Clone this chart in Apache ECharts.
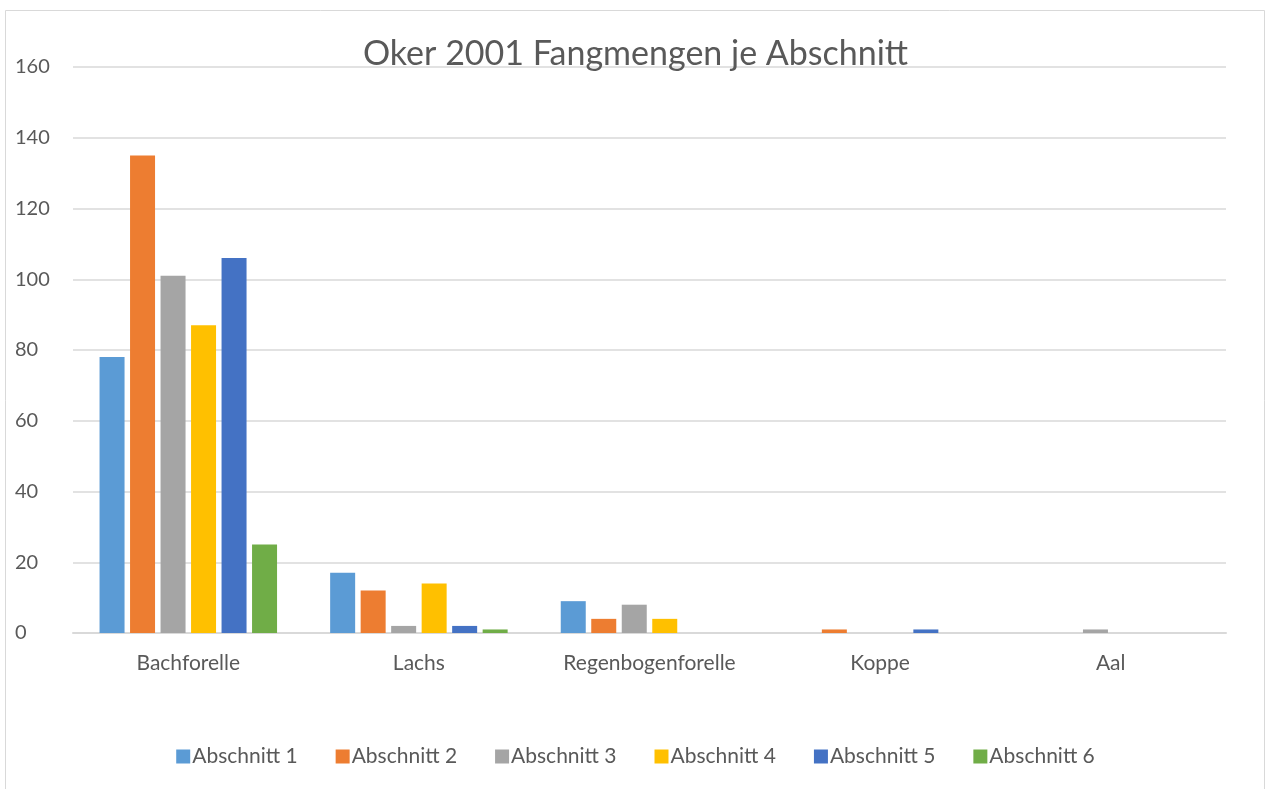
<!DOCTYPE html>
<html>
<head>
<meta charset="utf-8">
<script src="https://cdn.jsdelivr.net/npm/echarts@6/dist/echarts.min.js"></script>
<style>
  html, body { margin: 0; padding: 0; background: #fff; }
  #chart { width: 1271px; height: 789px; }
</style>
</head>
<body>
<div id="chart"></div>
<script>
// Fische (Kategorien) und Fangmengen je Abschnitt
const fishCategories = ['Bachforelle', 'Lachs', 'Regenbogenforelle', 'Koppe', 'Aal'];
const abschnitt1 = [78, 17, 9, 0, 0];
const abschnitt2 = [135, 12, 4, 1, 0];
const abschnitt3 = [101, 2, 8, 0, 1];
const abschnitt4 = [87, 14, 4, 0, 0];
const abschnitt5 = [106, 2, 0, 1, 0];
const abschnitt6 = [25, 1, 0, 0, 0];
const seriesNames = ['Abschnitt 1', 'Abschnitt 2', 'Abschnitt 3', 'Abschnitt 4', 'Abschnitt 5', 'Abschnitt 6'];
const seriesColors = ['#5b9bd5', '#ed7d31', '#a5a5a5', '#ffc000', '#4472c4', '#70ad47'];

const allValues = [abschnitt1, abschnitt2, abschnitt3, abschnitt4, abschnitt5, abschnitt6];
const fontFamily = 'Lato, "Open Sans", sans-serif';

const chart = echarts.init(document.getElementById('chart'), null, { renderer: 'canvas' });

const option = {
  backgroundColor: '#ffffff',
  animation: false,
  textStyle: { fontFamily: fontFamily, color: '#595959' },
  title: {
    text: 'Oker 2001 Fangmengen je Abschnitt',
    left: 'center',
    top: 32,
    textStyle: { fontSize: 34, fontWeight: 'normal', color: '#595959', fontFamily: fontFamily }
  },
  legend: {
    bottom: 17,
    left: 'center',
    icon: 'rect',
    itemWidth: 14,
    itemHeight: 14,
    itemGap: 38,
    textStyle: { fontSize: 21, color: '#595959', fontFamily: fontFamily, padding: [0, 0, 0, -3] },
    data: seriesNames
  },
  grid: { left: 73, right: 45, top: 67, bottom: 156, containLabel: false },
  xAxis: {
    type: 'category',
    data: fishCategories,
    axisLine: { lineStyle: { color: '#d9d9d9', width: 2 } },
    axisTick: { show: false },
    axisLabel: { fontSize: 21, color: '#595959', margin: 20 }
  },
  yAxis: {
    type: 'value',
    min: 0,
    max: 160,
    interval: 20,
    axisLine: { show: false },
    axisTick: { show: false },
    splitLine: { lineStyle: { color: '#d9d9d9', width: 1.5 } },
    axisLabel: { fontSize: 20, color: '#595959', align: 'left', margin: 58 }
  },
  graphic: [{
    type: 'rect',
    shape: { x: 5.5, y: 10.5, width: 1259, height: 800 },
    style: { fill: 'none', stroke: '#d9d9d9', lineWidth: 1 },
    silent: true
  }],
  series: seriesNames.map((name, i) => ({
    name: name,
    type: 'bar',
    data: allValues[i],
    barWidth: 25,
    barGap: '22%',
    itemStyle: { color: seriesColors[i] }
  }))
};

chart.setOption(option);
</script>
</body>
</html>
